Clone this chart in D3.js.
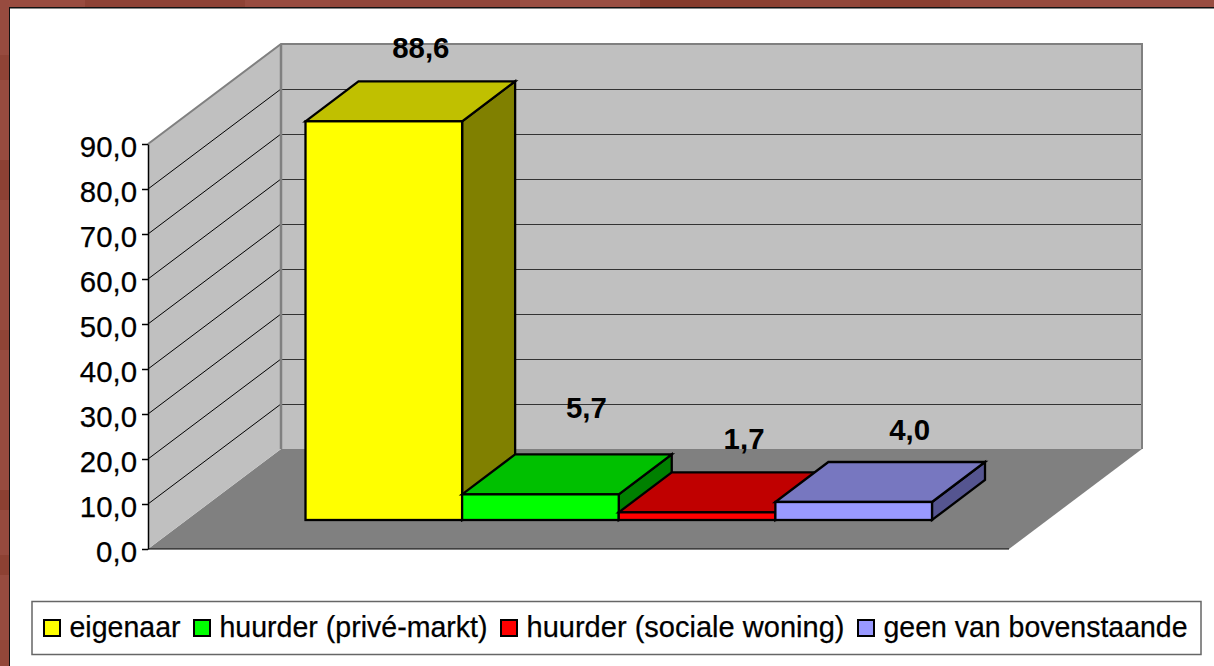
<!DOCTYPE html>
<html>
<head>
<meta charset="utf-8">
<script src="https://cdn.jsdelivr.net/npm/d3@7"></script>
<style>
  html, body { margin: 0; padding: 0; background: #fff; overflow: hidden; }
  svg { display: block; }
  text { font-family: "Liberation Sans", Arial, sans-serif; fill: #000; }
</style>
</head>
<body>
<svg id="chart" width="1214" height="666"></svg>
<script>
"use strict";

var categories = ["eigenaar", "huurder (privé-markt)", "huurder (sociale woning)", "geen van bovenstaande"];
var values = [88.6, 5.7, 1.7, 4.0];
var valueLabels = ["88,6", "5,7", "1,7", "4,0"];
var tickValues = [0, 10, 20, 30, 40, 50, 60, 70, 80, 90];
var frontColors = ["#ffff00", "#00ff00", "#ff0000", "#9999ff"];
var topColors = ["#c0c000", "#00c000", "#c00000", "#7777c0"];
var sideColors = ["#808000", "#008000", "#800000", "#555590"];

// tiles of the brown frame, just a rough copy of the picture's texture
var topTileStarts = [0, 85, 245, 330, 520, 640, 700, 780, 860, 950, 1090];
var topTileColors = ["#994c40", "#8e4235", "#984b3f", "#91463a", "#9a4e42", "#853a2b", "#8b3f30", "#92473a", "#8a3e30", "#964a3d", "#994d41"];
var leftTileStarts = [0, 55, 80, 160, 200, 330, 350, 490, 510, 555, 575, 640];
var leftTileColors = ["#974b3f", "#8f4336", "#974b3f", "#8d4134", "#964a3e", "#8f4436", "#974b3f", "#8c4032", "#964a3e", "#8d4133", "#974b3f", "#934739"];

var svg = d3.select("#chart");

// wall and bar depth of the fake 3d
var wallDx = 133, wallDy = -100;
var barDx = 53, barDy = -40;
var plotLeft = 148, plotRight = 1009, plotBottom = 549, plotTop = 144;
var barLift = 29; // bars stand on the floor, a bit behind the front edge
var fontSize = "30px"; // the source text is a little taller than it is wide

var yScale = d3.scaleLinear().domain([0, 90]).range([plotBottom, plotTop]);
var xScale = d3.scaleBand().domain(categories).range([305.5, 932]).padding(0);

function pts(list) {
  return list.map(function (p) { return p[0] + "," + p[1]; }).join(" ");
}

// narrow the text to the width it has in the picture
function squeeze(sel, k) {
  sel.each(function () {
    d3.select(this)
      .attr("textLength", this.getComputedTextLength() * k)
      .attr("lengthAdjust", "spacingAndGlyphs");
  });
}

function drawFrame() {
  svg.append("rect").attr("width", 1214).attr("height", 666).style("fill", "#974b3f");
  svg.append("g").selectAll("rect").data(topTileStarts).enter().append("rect")
    .attr("x", function (d) { return d; })
    .attr("y", 0)
    .attr("width", function (d, i) { return (topTileStarts[i + 1] || 1214) - d; })
    .attr("height", 8)
    .style("fill", function (d, i) { return topTileColors[i]; });
  svg.append("g").selectAll("rect").data(leftTileStarts).enter().append("rect")
    .attr("x", 0)
    .attr("y", function (d) { return d; })
    .attr("width", 9)
    .attr("height", function (d, i) { return (leftTileStarts[i + 1] || 666) - d; })
    .style("fill", function (d, i) { return leftTileColors[i]; });
  svg.append("rect").attr("x", 9).attr("y", 7).attr("width", 1205).attr("height", 659).style("fill", "#111");
  svg.append("rect").attr("x", 10).attr("y", 8.5).attr("width", 1204).attr("height", 658).style("fill", "#fff");
}

function drawWalls() {
  var backLeft = plotLeft + wallDx;
  var backRight = plotRight + wallDx;
  var backTop = plotTop + wallDy;
  var backBottom = plotBottom + wallDy;

  svg.append("polygon")
    .attr("points", pts([[plotLeft, plotBottom], [backLeft, backBottom], [backRight, backBottom], [plotRight, plotBottom]]))
    .style("fill", "#808080");
  svg.append("polygon")
    .attr("points", pts([[plotLeft, plotTop], [backLeft, backTop], [backLeft, backBottom], [plotLeft, plotBottom]]))
    .style("fill", "#c0c0c0");
  svg.append("rect")
    .attr("x", backLeft).attr("y", backTop)
    .attr("width", backRight - backLeft).attr("height", backBottom - backTop)
    .style("fill", "#c0c0c0");

  var grid = tickValues.slice(1, -1);
  svg.selectAll("line.sideGrid").data(grid).enter().append("line")
    .attr("class", "sideGrid")
    .attr("x1", plotLeft).attr("x2", backLeft)
    .attr("y1", function (d) { return yScale(d); })
    .attr("y2", function (d) { return yScale(d) + wallDy; })
    .style("stroke", "#000").style("stroke-width", 1);
  svg.selectAll("line.backGrid").data(grid).enter().append("line")
    .attr("class", "backGrid")
    .attr("x1", backLeft).attr("x2", backRight)
    .attr("y1", function (d) { return Math.round(yScale(d) + wallDy) + 0.5; })
    .attr("y2", function (d) { return Math.round(yScale(d) + wallDy) + 0.5; })
    .style("stroke", "#333").style("stroke-width", 1);

  // grey outline of the walls
  svg.append("polyline")
    .attr("points", pts([[plotLeft, plotTop], [backLeft, backTop], [backRight, backTop], [backRight, backBottom]]))
    .style("fill", "none").style("stroke", "#808080").style("stroke-width", 2);
  svg.append("line")
    .attr("x1", backLeft).attr("x2", backLeft).attr("y1", backTop).attr("y2", backBottom)
    .style("stroke", "#808080").style("stroke-width", 2.5);
  svg.append("line")
    .attr("x1", plotLeft).attr("x2", plotRight).attr("y1", plotBottom).attr("y2", plotBottom)
    .style("stroke", "#000").style("stroke-width", 1.2);
}

function drawAxis() {
  var axis = d3.axisLeft(yScale)
    .tickValues(tickValues)
    .tickSize(6)
    .tickSizeOuter(0)
    .tickPadding(5)
    .tickFormat(function (d) { return d3.format(".1f")(d).replace(".", ","); });
  var g = svg.append("g").attr("transform", "translate(" + plotLeft + ",0)").call(axis);
  g.selectAll("text")
    .attr("dy", "12px")
    .style("font-size", fontSize)
    .style("font-family", "'Liberation Sans'")
    .style("fill", "#000")
    .style("stroke", "#000")
    .style("stroke-width", 0.25)
    .call(squeeze, 0.98);
  g.select(".domain").style("stroke", "#000").style("stroke-width", 1.5);
  g.selectAll(".tick line").style("stroke", "#000").style("stroke-width", 1.5);
}

function drawBars() {
  var barBottom = plotBottom - barLift;
  var w = xScale.bandwidth();
  var bars = svg.selectAll("g.bar").data(values).enter().append("g").attr("class", "bar");

  function edge(sel) {
    sel.style("stroke", "#000").style("stroke-width", 2.3).style("stroke-linejoin", "miter");
  }

  bars.append("polygon")
    .attr("points", function (d, i) {
      var x = xScale(categories[i]) + w, top = yScale(d) - barLift;
      return pts([[x, top], [x + barDx, top + barDy], [x + barDx, barBottom + barDy], [x, barBottom]]);
    })
    .style("fill", function (d, i) { return sideColors[i]; })
    .call(edge);
  bars.append("polygon")
    .attr("points", function (d, i) {
      var x = xScale(categories[i]), top = yScale(d) - barLift;
      return pts([[x, top], [x + barDx, top + barDy], [x + w + barDx, top + barDy], [x + w, top]]);
    })
    .style("fill", function (d, i) { return topColors[i]; })
    .call(edge);
  bars.append("rect")
    .attr("x", function (d, i) { return xScale(categories[i]); })
    .attr("y", function (d) { return yScale(d) - barLift; })
    .attr("width", w)
    .attr("height", function (d) { return barBottom - (yScale(d) - barLift); })
    .style("fill", function (d, i) { return frontColors[i]; })
    .call(edge);
}

function drawValueLabels() {
  var w = xScale.bandwidth();
  // Excel places these by itself, so the offset differs per bar
  var offX = [37, 46, 47, 56];
  var offY = [-63, -76, -63, -62];
  svg.selectAll("text.valueLabel").data(values).enter().append("text")
    .attr("class", "valueLabel")
    .attr("text-anchor", "middle")
    .attr("x", function (d, i) { return xScale(categories[i]) + w / 2 + offX[i]; })
    .attr("y", function (d, i) { return yScale(d) - barLift + offY[i]; })
    .style("font-size", fontSize)
    .style("font-weight", "bold")
    .text(function (d, i) { return valueLabels[i]; })
    .call(squeeze, 0.98);
}

function drawLegend() {
  var legend = svg.append("g").attr("id", "legend");
  legend.append("rect")
    .attr("x", 32).attr("y", 601.5).attr("width", 1169).attr("height", 53)
    .style("fill", "#fff").style("stroke", "#666").style("stroke-width", 1.5);

  // text widths as measured in the picture
  var textWidths = [111, 268, 318, 304];
  var x = 44;
  categories.forEach(function (name, i) {
    legend.append("rect")
      .attr("x", x).attr("y", 620).attr("width", 16).attr("height", 16)
      .style("fill", frontColors[i]).style("stroke", "#000").style("stroke-width", 2);
    legend.append("text")
      .attr("x", x + 25.5).attr("y", 637)
      .attr("textLength", textWidths[i])
      .attr("lengthAdjust", "spacingAndGlyphs")
      .style("font-size", fontSize)
      .style("stroke", "#000")
      .style("stroke-width", 0.25)
      .text(name);
    x += 25 + textWidths[i] + 14;
  });
}

drawFrame();
drawWalls();
drawAxis();
drawBars();
drawValueLabels();
drawLegend();
</script>
</body>
</html>
